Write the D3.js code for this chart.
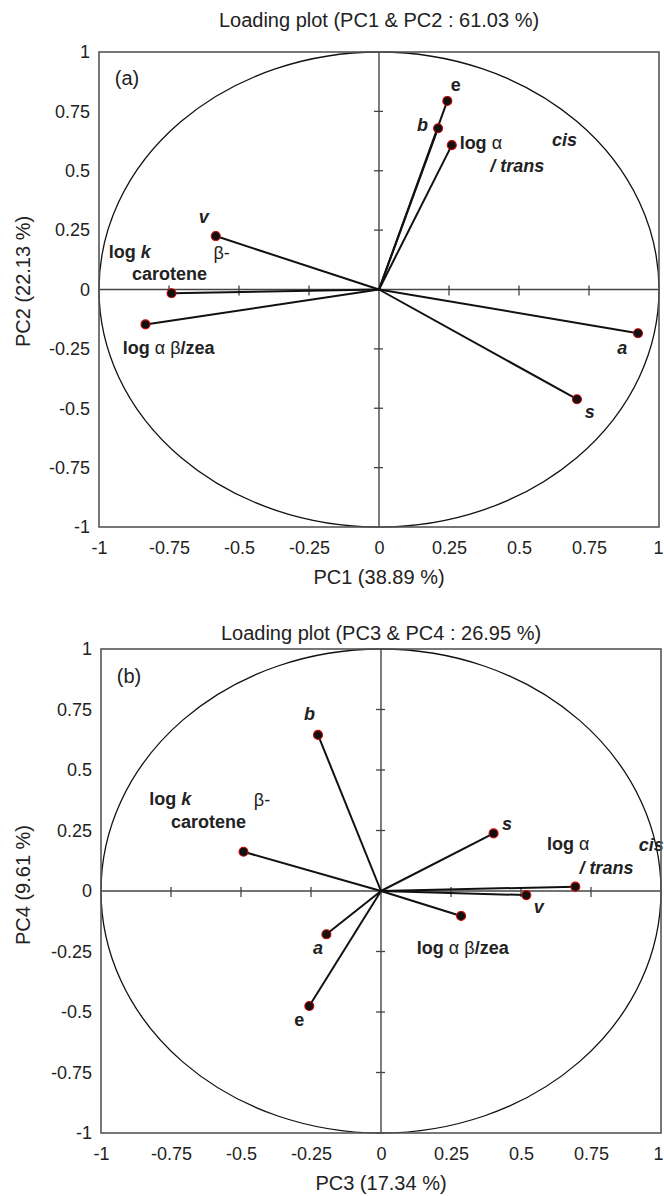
<!DOCTYPE html>
<html><head><meta charset="utf-8">
<script src="https://cdn.jsdelivr.net/npm/d3@7"></script>
<style>html,body{margin:0;padding:0;background:#fff;} svg{display:block;}</style>
</head><body><svg id="chart" width="664" height="1196"></svg>
<script>
// ---------- data ----------
const variables = ["a", "b", "e", "s", "v", "log k β-carotene", "log α cis/trans", "log α β/zea"];
const pc1 = [0.925, 0.211, 0.244, 0.707, -0.583, -0.741, 0.260, -0.834];
const pc2 = [-0.184, 0.679, 0.794, -0.462, 0.225, -0.016, 0.608, -0.147];
const pc3 = [-0.195, -0.225, -0.256, 0.402, 0.519, -0.491, 0.694, 0.286];
const pc4 = [-0.179, 0.645, -0.475, 0.238, -0.017, 0.162, 0.018, -0.103];
const tickValues = [-1, -0.75, -0.5, -0.25, 0, 0.25, 0.5, 0.75, 1];
const tickLabels = ["-1", "-0.75", "-0.5", "-0.25", "0", "0.25", "0.5", "0.75", "1"];
const panelTitles = ["Loading plot (PC1 & PC2 : 61.03 %)", "Loading plot (PC3 & PC4 : 26.95 %)"];
const xTitles = ["PC1 (38.89 %)", "PC3 (17.34 %)"];
const yTitles = ["PC2 (22.13 %)", "PC4 (9.61 %)"];
const panelTags = ["(a)", "(b)"];

// ---------- annotations (label text pieces, placed in data units) ----------
const labelsA = [
  {parts: [["v", "bi"]], x: -0.626, y: 0.305},
  {parts: [["β-", "n"]], x: -0.562, y: 0.154},
  {parts: [["log ", "b"], ["k", "bi"]], x: -0.890, y: 0.158},
  {parts: [["carotene", "b"]], x: -0.748, y: 0.065},
  {parts: [["log ", "b"], ["α β", "n"], ["/zea", "b"]], x: -0.751, y: -0.246},
  {parts: [["e", "b"]], x: 0.274, y: 0.861},
  {parts: [["b", "bi"]], x: 0.155, y: 0.693},
  {parts: [["log ", "b"], ["α", "n"]], x: 0.288, y: 0.617, anchor: "start"},
  {parts: [["cis", "bi"]], x: 0.663, y: 0.629},
  {parts: [["/ trans", "bi"]], x: 0.494, y: 0.520},
  {parts: [["a", "bi"]], x: 0.869, y: -0.246},
  {parts: [["s", "bi"]], x: 0.753, y: -0.515}
];
const labelsB = [
  {parts: [["b", "bi"]], x: -0.255, y: 0.731},
  {parts: [["log ", "b"], ["k", "bi"]], x: -0.753, y: 0.380},
  {parts: [["β-", "n"]], x: -0.425, y: 0.376},
  {parts: [["carotene", "b"]], x: -0.616, y: 0.285},
  {parts: [["s", "bi"]], x: 0.450, y: 0.277},
  {parts: [["log ", "b"], ["α", "n"]], x: 0.669, y: 0.194},
  {parts: [["cis", "bi"]], x: 0.965, y: 0.190},
  {parts: [["/ trans", "bi"]], x: 0.805, y: 0.095},
  {parts: [["v", "bi"]], x: 0.563, y: -0.066},
  {parts: [["log ", "b"], ["α β", "n"], ["/zea", "b"]], x: 0.292, y: -0.236},
  {parts: [["a", "bi"]], x: -0.225, y: -0.234},
  {parts: [["e", "b"]], x: -0.292, y: -0.530}
];

// ---------- layout ----------
const panels = [
  {xs: pc1, ys: pc2, labels: labelsA, box: {l: 99, r: 659, t: 52, b: 527}, titleY: 27, yTitleShift: -8},
  {xs: pc3, ys: pc4, labels: labelsB, box: {l: 101, r: 661, t: 649, b: 1133}, titleY: 640, yTitleShift: -6}
];
const FONT = "'Liberation Sans', Arial, Helvetica, sans-serif";
const svg = d3.select("#chart");

panels.forEach((p, i) => {
  const b = p.box;
  const x = d3.scaleLinear().domain([-1, 1]).range([b.l, b.r]);
  const y = d3.scaleLinear().domain([-1, 1]).range([b.b, b.t]);
  const g = svg.append("g");
  const cx = x(0), cy = y(0);

  // title
  g.append("text").attr("x", (b.l + b.r) / 2).attr("y", p.titleY)
    .attr("text-anchor", "middle").attr("font-family", FONT).attr("font-size", 20)
    .attr("fill", "#222").text(panelTitles[i]);

  // unit circle
  g.append("ellipse").attr("cx", cx).attr("cy", cy)
    .attr("rx", x(1) - x(0)).attr("ry", y(0) - y(1))
    .attr("fill", "none").attr("stroke", "#111").attr("stroke-width", 1.3);

  // zero axes
  g.append("line").attr("x1", b.l).attr("x2", b.r).attr("y1", cy).attr("y2", cy)
    .attr("stroke", "#444").attr("stroke-width", 1.4);
  g.append("line").attr("x1", cx).attr("x2", cx).attr("y1", b.t).attr("y2", b.b)
    .attr("stroke", "#444").attr("stroke-width", 1.4);

  const inner = tickValues.filter(v => v !== 0 && Math.abs(v) < 1);
  g.selectAll(".tx").data(inner).join("line")
    .attr("x1", d => x(d)).attr("x2", d => x(d)).attr("y1", cy - 4).attr("y2", cy + 6)
    .attr("stroke", "#444").attr("stroke-width", 1.3);
  g.selectAll(".ty").data(inner).join("line")
    .attr("y1", d => y(d)).attr("y2", d => y(d)).attr("x1", cx - 5).attr("x2", cx + 4)
    .attr("stroke", "#444").attr("stroke-width", 1.3);

  // tick labels via d3 axes
  const fmt = d => tickLabels[tickValues.indexOf(d)];
  const ax = g.append("g").attr("transform", `translate(0,${b.b})`)
    .call(d3.axisBottom(x).tickValues(tickValues).tickFormat(fmt).tickSize(0).tickPadding(0));
  ax.select(".domain").remove();
  ax.selectAll("text").attr("font-family", FONT).attr("font-size", 18).attr("fill", "#222")
    .attr("dy", null).attr("y", 27)
    .attr("dx", d => (x(d) + 6 > 664 ? 664 - 6 - x(d) : 0));
  const ay = g.append("g").attr("transform", `translate(${b.l},0)`)
    .call(d3.axisLeft(y).tickValues(tickValues).tickFormat(fmt).tickSize(0).tickPadding(9));
  ay.select(".domain").remove();
  ay.selectAll("text").attr("font-family", FONT).attr("font-size", 18).attr("fill", "#222");

  // axis titles
  g.append("text").attr("x", cx).attr("y", b.b + 57).attr("text-anchor", "middle")
    .attr("font-family", FONT).attr("font-size", 20).attr("fill", "#222").text(xTitles[i]);
  g.append("text").attr("transform", `translate(30,${cy + p.yTitleShift}) rotate(-90)`)
    .attr("text-anchor", "middle").attr("font-family", FONT).attr("font-size", 20)
    .attr("fill", "#222").text(yTitles[i]);

  // vectors
  const idx = d3.range(variables.length);
  g.selectAll(".vec").data(idx).join("line")
    .attr("x1", cx).attr("y1", cy)
    .attr("x2", k => x(p.xs[k])).attr("y2", k => y(p.ys[k]))
    .attr("stroke", "#111").attr("stroke-width", 2);
  g.selectAll(".pt").data(idx).join("circle")
    .attr("cx", k => x(p.xs[k])).attr("cy", k => y(p.ys[k])).attr("r", 4.5)
    .attr("fill", "#111").attr("stroke", "#d00000").attr("stroke-width", 1.1);

  // labels
  p.labels.forEach(L => {
    const t = g.append("text").attr("x", x(L.x)).attr("y", y(L.y)).attr("dy", "0.35em")
      .attr("text-anchor", L.anchor || "middle").attr("font-family", FONT)
      .attr("font-size", 18).attr("fill", "#222");
    L.parts.forEach(([s, st]) => {
      t.append("tspan").text(s)
        .attr("font-weight", st === "n" ? "normal" : "bold")
        .attr("font-style", st === "bi" ? "italic" : "normal");
    });
  });

  // panel tag
  g.append("text").attr("x", x(-0.9)).attr("y", y(0.89)).attr("dy", "0.35em")
    .attr("text-anchor", "middle").attr("font-family", FONT).attr("font-size", 20)
    .attr("fill", "#222").text(panelTags[i]);

  // frame
  g.append("rect").attr("x", b.l).attr("y", b.t).attr("width", b.r - b.l).attr("height", b.b - b.t)
    .attr("fill", "none").attr("stroke", "#555").attr("stroke-width", 1.6);
});
</script></body></html>
